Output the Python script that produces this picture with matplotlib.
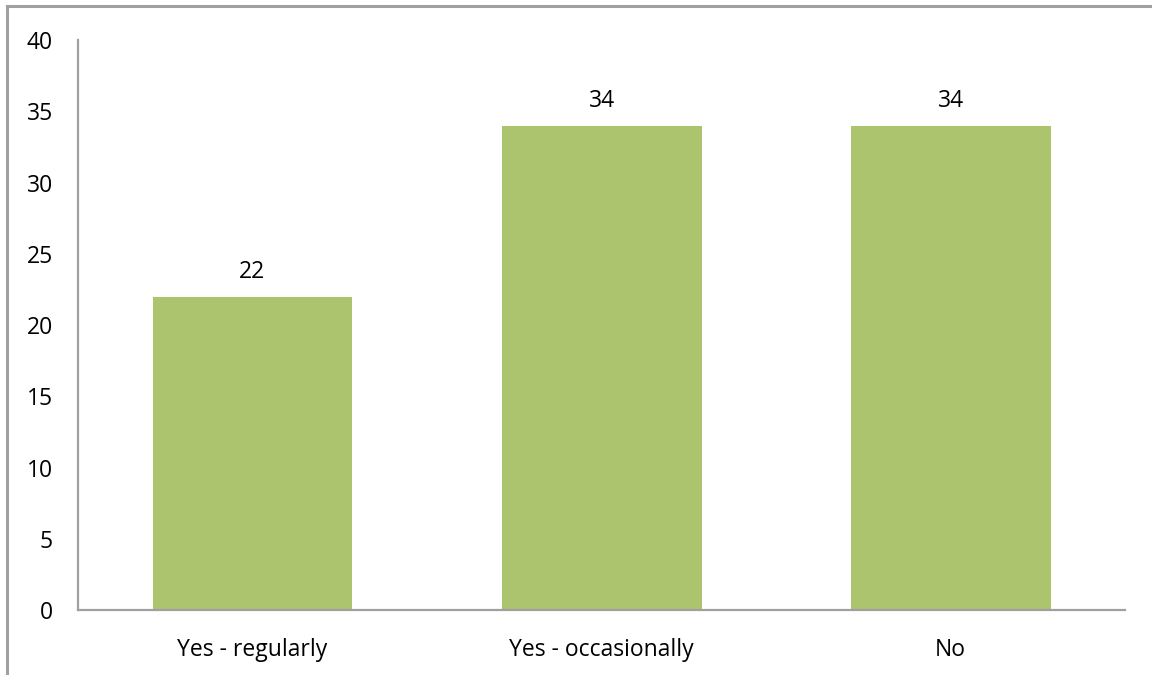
import matplotlib
matplotlib.use("Agg")
import matplotlib.pyplot as plt
from matplotlib.lines import Line2D

categories = ["Yes - regularly", "Yes - occasionally", "No"]
values = [22, 34, 34]
y_ticks = [0, 5, 10, 15, 20, 25, 30, 35, 40]

plt.rcParams["font.family"] = ["Open Sans", "DejaVu Sans"]

fig = plt.figure(figsize=(11.52, 6.75), dpi=100)
ax = fig.add_axes([0.0677, 0.0963, 0.9089, 0.8444])

x = range(len(categories))
bars = ax.bar(x, values, width=0.573, color="#ABC46D")

for b, v in zip(bars, values):
    ax.annotate(str(v), (b.get_x() + b.get_width() / 2, v),
                xytext=(0, 9), textcoords="offset points",
                ha="center", va="bottom", fontsize=16.5, color="#000000")

ax.set_xlim(-0.5, 2.5)
ax.set_ylim(0, 40)
ax.set_yticks(y_ticks)
ax.set_xticks(list(x))
ax.set_xticklabels(categories)
ax.tick_params(axis="both", length=0, labelsize=16.5, colors="#000000")
ax.tick_params(axis="y", pad=18)
ax.tick_params(axis="x", pad=20)

for side in ("top", "right"):
    ax.spines[side].set_visible(False)
for side in ("left", "bottom"):
    ax.spines[side].set_color("#A0A0A0")
    ax.spines[side].set_linewidth(1.6)

# outer frame: top and left edges of the chart area
fig.add_artist(Line2D([0.0065, 1.0], [0.9915, 0.9915], color="#A0A0A0", lw=2.2,
                      transform=fig.transFigure))
fig.add_artist(Line2D([0.0065, 0.0065], [0.0, 0.9915], color="#A0A0A0", lw=2.2,
                      transform=fig.transFigure))

fig.savefig("out.png", dpi=100, facecolor="white")
